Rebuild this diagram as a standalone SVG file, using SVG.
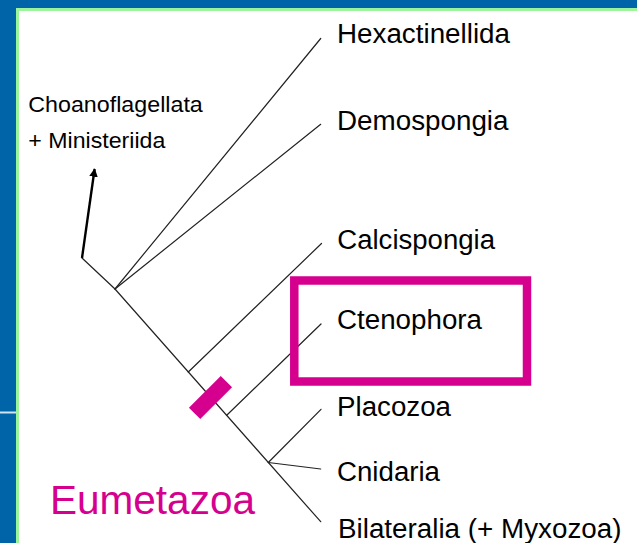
<svg xmlns="http://www.w3.org/2000/svg" width="637" height="543" viewBox="0 0 637 543">
  <style>
    .lbl { font-family: "Liberation Sans", Arial, sans-serif; font-size: 27px; fill: #000; }
    .sm { font-family: "Liberation Sans", Arial, sans-serif; font-size: 22px; fill: #000; }
    .br { fill: none; stroke: #222; stroke-width: 1.2; stroke-linecap: round; }
  </style>
  <defs>
    <marker id="ah" viewBox="0 0 10 10" refX="9" refY="5" markerWidth="3.6" markerHeight="3.6" orient="auto" markerUnits="strokeWidth">
      <path d="M0,0 L10,5 L0,10 Z" fill="#000"/>
    </marker>
  </defs>
  <!-- background frame -->
  <rect x="0" y="0" width="637" height="543" fill="#0064A8"/>
  <rect x="16" y="8" width="621" height="535" fill="#9CF59C"/>
  <rect x="19" y="11" width="618" height="532" fill="#fff"/>
  <rect x="0" y="411.5" width="16" height="2" fill="#cfe6f2"/>

  <g id="connectors">
    <polyline class="br" points="82,258 115,289 320.7,521.7"/>
    <line class="br" x1="115" y1="289" x2="320.7" y2="38.5"/>
    <line class="br" x1="115" y1="289" x2="320.7" y2="124.3"/>
    <line class="br" x1="188.3" y1="372" x2="321.5" y2="243.5"/>
    <line class="br" x1="226.7" y1="415.3" x2="321" y2="324"/>
    <line class="br" x1="268.3" y1="462.5" x2="321" y2="409.3"/>
    <line class="br" x1="268.3" y1="462.5" x2="320.7" y2="469"/>
    <line x1="82" y1="258" x2="94.6" y2="169" stroke="#000" stroke-width="2.4" marker-end="url(#ah)"/>
  </g>

  <g id="synapomorphy">
    <rect x="188" y="389.5" width="45" height="16" fill="#D6008F" transform="rotate(-45 210.5 397.5)"/>
  </g>

  <g id="highlight-box">
    <rect x="294.3" y="280.5" width="232.7" height="101" fill="none" stroke="#D6008F" stroke-width="8.5"/>
  </g>

  <g id="node-outgroup">
    <text class="sm" x="28.3" y="112" textLength="174.5" lengthAdjust="spacingAndGlyphs">Choanoflagellata</text>
    <text class="sm" x="28.3" y="148" textLength="137" lengthAdjust="spacingAndGlyphs">+ Ministeriida</text>
  </g>
  <g id="node-hexactinellida"><text class="lbl" x="337" y="43.3" textLength="173" lengthAdjust="spacingAndGlyphs">Hexactinellida</text></g>
  <g id="node-demospongia"><text class="lbl" x="337" y="130" textLength="171.5" lengthAdjust="spacingAndGlyphs">Demospongia</text></g>
  <g id="node-calcispongia"><text class="lbl" x="337.3" y="249" textLength="157.7" lengthAdjust="spacingAndGlyphs">Calcispongia</text></g>
  <g id="node-ctenophora"><text class="lbl" x="337" y="329" textLength="145" lengthAdjust="spacingAndGlyphs">Ctenophora</text></g>
  <g id="node-placozoa"><text class="lbl" x="337" y="415.5" textLength="114" lengthAdjust="spacingAndGlyphs">Placozoa</text></g>
  <g id="node-cnidaria"><text class="lbl" x="337" y="480.5" textLength="103" lengthAdjust="spacingAndGlyphs">Cnidaria</text></g>
  <g id="node-bilateralia"><text class="lbl" x="338" y="537.5" textLength="283.5" lengthAdjust="spacingAndGlyphs">Bilateralia (+ Myxozoa)</text></g>
  <g id="label-eumetazoa">
    <text x="50" y="514" font-family="'Liberation Sans', Arial, sans-serif" font-size="41" fill="#D6008F" textLength="205" lengthAdjust="spacingAndGlyphs">Eumetazoa</text>
  </g>
</svg>
